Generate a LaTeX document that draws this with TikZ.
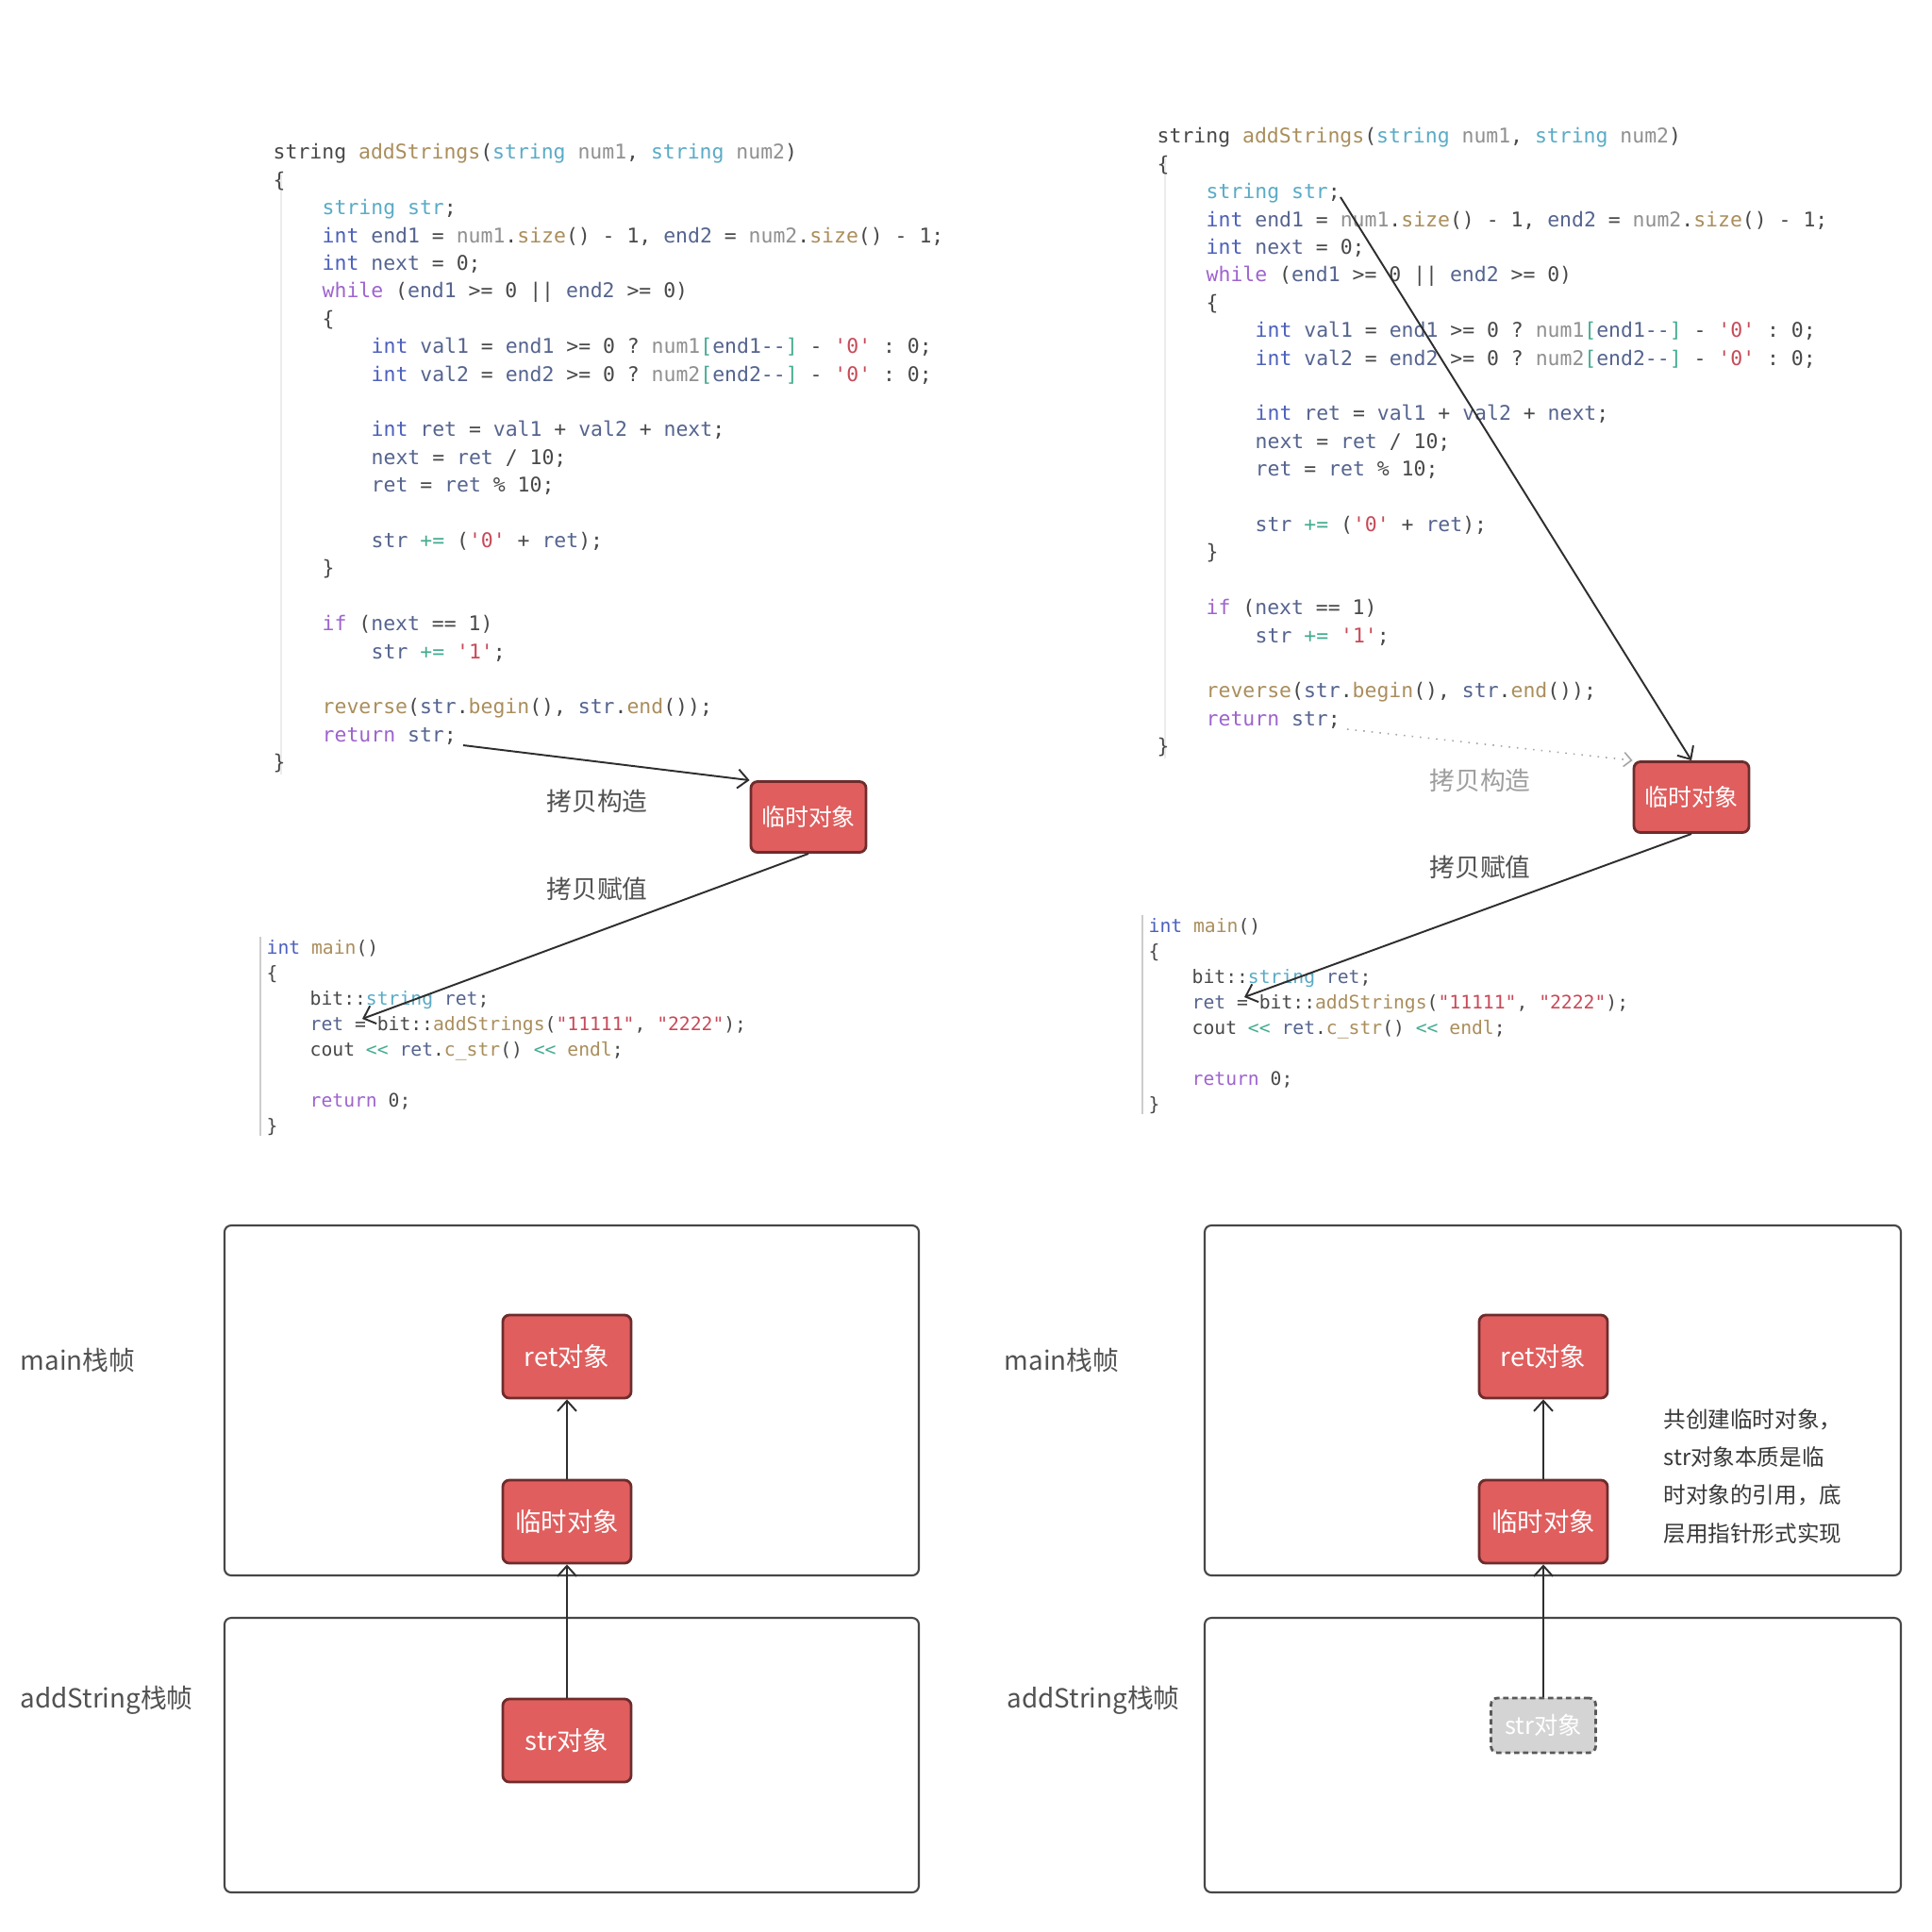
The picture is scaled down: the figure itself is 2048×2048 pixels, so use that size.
\documentclass[tikz,border=0pt]{standalone}
\usepackage{fontspec}
\setmainfont{Noto Sans CJK SC}
\setmonofont{DejaVu Sans Mono}
\usetikzlibrary{arrows.meta}

\definecolor{boxred}{HTML}{E05E5E}
\definecolor{boxline}{HTML}{6E2C2C}
\definecolor{cTx}{HTML}{484848}
\definecolor{cTy}{HTML}{4C60BC}
\definecolor{cKw}{HTML}{5AABC6}
\definecolor{cFn}{HTML}{AA8E5C}
\definecolor{cVa}{HTML}{55648F}
\definecolor{cNm}{HTML}{909090}
\definecolor{cCt}{HTML}{9E64CE}
\definecolor{cCh}{HTML}{C84A58}
\definecolor{cOp}{HTML}{45AC92}

% token colours
\newcommand{\cty}[1]{\textcolor{cTy}{#1}}
\newcommand{\ckw}[1]{\textcolor{cKw}{#1}}
\newcommand{\cfn}[1]{\textcolor{cFn}{#1}}
\newcommand{\cva}[1]{\textcolor{cVa}{#1}}
\newcommand{\cnm}[1]{\textcolor{cNm}{#1}}
\newcommand{\cct}[1]{\textcolor{cCt}{#1}}
\newcommand{\cch}[1]{\textcolor{cCh}{#1}}
\newcommand{\cop}[1]{\textcolor{cOp}{#1}}

\tikzset{
  code/.style={anchor=west, inner sep=0pt, text=cTx, text height=4.6pt, text depth=1.3pt,
    font=\ttfamily\fontsize{6.1}{7}\selectfont},
  mcode/.style={code, font=\ttfamily\fontsize{5.6}{6.5}\selectfont},
  guide/.style={draw=gray!15, line width=0.4pt},
  obj/.style={draw=boxline, fill=boxred, line width=0.8pt, rounded corners=2pt, text=white,
    minimum width=1.22cm, minimum height=0.75cm, inner sep=1pt, font=\fontsize{7.1}{8}\selectfont},
  big/.style={minimum width=1.36cm, minimum height=0.88cm, font=\fontsize{7.8}{9}\selectfont},
  ghost/.style={draw=black!65, fill=black!17, line width=0.8pt, dash pattern=on 1.6pt off 1.1pt,
    rounded corners=2pt, text=white, minimum width=1.11cm, minimum height=0.58cm, inner sep=1pt,
    font=\fontsize{7.2}{8}\selectfont},
  lbl/.style={inner sep=0pt, text=black!68, font=\fontsize{7.6}{9}\selectfont},
  frm/.style={anchor=west, inner sep=0pt, text=black!68, font=\fontsize{7.9}{9}\selectfont},
  note/.style={anchor=west, inner sep=0pt, align=left, text=black!78, font=\fontsize{6.7}{11.4}\selectfont},
  frame/.style={draw=black!72, line width=0.6pt, rounded corners=2pt},
  link/.style={draw=black!82, line width=0.55pt, -{Straight Barb[length=1.1mm,width=2mm]}},
  faint/.style={draw=black!35, line width=0.45pt, dotted, -{Straight Barb[length=0.8mm,width=1.5mm]}}
}

% addStrings body, #1 #2 = top left, #3 = name prefix
\newcommand{\codeblock}[3]{%
  \begin{scope}[shift={(#1,#2)}]
    \draw[guide] (9,22) -- (9,658);
    \node[code] (#3l0) at (0,0) {string \cfn{addStrings}(\ckw{string} \cnm{num1}, \ckw{string} \cnm{num2})};
    \node[code] (#3l1) at (0,29.4) {\{};
    \node[code] (#3str) at (52,58.8) {\ckw{string str};};
    \node[code] (#3l3) at (52,88.2) {\cty{int} \cva{end1} = \cnm{num1}.\cfn{size}() - 1, \cva{end2} = \cnm{num2}.\cfn{size}() - 1;};
    \node[code] (#3l4) at (52,117.6) {\cty{int} \cva{next} = 0;};
    \node[code] (#3l5) at (52,147) {\cct{while} (\cva{end1} >= 0 || \cva{end2} >= 0)};
    \node[code] (#3l6) at (52,176.4) {\{};
    \node[code] (#3l7) at (104,205.8) {\cty{int} \cva{val1} = \cva{end1} >= 0 ? \cnm{num1}\cop{[}\cva{end1--}\cop{]} - \cch{'0'} : 0;};
    \node[code] (#3l8) at (104,235.2) {\cty{int} \cva{val2} = \cva{end2} >= 0 ? \cnm{num2}\cop{[}\cva{end2--}\cop{]} - \cch{'0'} : 0;};
    \node[code] (#3l10) at (104,294) {\cty{int} \cva{ret} = \cva{val1} + \cva{val2} + \cva{next};};
    \node[code] (#3l11) at (104,323.4) {\cva{next} = \cva{ret} / 10;};
    \node[code] (#3l12) at (104,352.8) {\cva{ret} = \cva{ret} \% 10;};
    \node[code] (#3l14) at (104,411.6) {\cva{str} \cop{+=} (\cch{'0'} + \cva{ret});};
    \node[code] (#3l15) at (52,441) {\}};
    \node[code] (#3l17) at (52,499.8) {\cct{if} (\cva{next} == 1)};
    \node[code] (#3l18) at (104,529.2) {\cva{str} \cop{+=} \cch{'1'};};
    \node[code] (#3l20) at (52,588) {\cfn{reverse}(\cva{str}.\cfn{begin}(), \cva{str}.\cfn{end}());};
    \node[code] (#3ret) at (52,617.4) {\cct{return} \cva{str};};
    \node[code] (#3l22) at (0,646.8) {\}};
    \coordinate (#3src) at (195,63);% after "string str;"
    \coordinate (#3out) at (202,627);% after "return str;"
  \end{scope}}

% main(), same arguments
\newcommand{\mainblock}[3]{%
  \begin{scope}[shift={(#1,#2)}]
    \draw[guide, draw=gray!40] (-6,-13) -- (-6,198);
    \node[mcode] (#3m0) at (0,0) {\cty{int} \cfn{main}()};
    \node[mcode] (#3m1) at (0,27) {\{};
    \node[mcode] (#3m2) at (46,54) {bit::\ckw{string} \cva{ret};};
    \node[mcode] (#3asg) at (46,81) {\cva{ret} = bit::\cfn{addStrings}(\cch{"11111"}, \cch{"2222"});};
    \node[mcode] (#3m4) at (46,108) {cout \cop{<<} \cva{ret}.\cfn{c\_str}() \cop{<<} \cfn{endl};};
    \node[mcode] (#3m6) at (46,162) {\cct{return} 0;};
    \node[mcode] (#3m7) at (0,189) {\}};
    \coordinate (#3tip) at (102,74);% at "ret ="
  \end{scope}}

\begin{document}
\begin{tikzpicture}[x=0.01cm, y=-0.01cm]
  \useasboundingbox (0,0) rectangle (2048,2048);
  \fill[white] (0,0) rectangle (2048,2048);

  % code listings
  \codeblock{289}{163}{a}
  \codeblock{1226}{146}{b}
  \mainblock{282}{1006}{a}
  \mainblock{1217}{983}{b}

  % left: copy construct, then copy assign
  \node[obj] (tmpA) at (857,866) {临时对象};
  \node[lbl] (cpyA) at (633,849) {拷贝构造};
  \node[lbl] (asnA) at (633,942) {拷贝赋值};
  \draw[link] (aout) -- (tmpA.north west);
  \draw[link] (tmpA.south) -- (atip);

  % right: str built straight into the temporary
  \node[obj] (tmpB) at (1793,845) {临时对象};
  \node[lbl, text=black!38] (cpyB) at (1569,827) {拷贝构造};
  \node[lbl] (asnB) at (1569,919) {拷贝赋值};
  \draw[link] (bsrc) -- (tmpB.north);
  \draw[faint] (bout) -- (tmpB.north west);
  \draw[link] (tmpB.south) -- (btip);

  % stack frames
  \draw[frame] (238,1299) rectangle (974,1670);
  \draw[frame] (238,1715) rectangle (974,2006);
  \draw[frame] (1277,1299) rectangle (2015,1670);
  \draw[frame] (1277,1715) rectangle (2015,2006);
  \node[frm] (mainA) at (21,1442) {main栈帧};
  \node[frm] (addA) at (21,1802) {addString栈帧};
  \node[frm] (mainB) at (1064,1442) {main栈帧};
  \node[frm] (addB) at (1067,1802) {addString栈帧};

  \node[obj, big] (retA) at (601,1438) {ret对象};
  \node[obj, big] (midA) at (601,1613) {临时对象};
  \node[obj, big] (strA) at (601,1845) {str对象};
  \draw[link] (strA) -- (midA);
  \draw[link] (midA) -- (retA);

  \node[obj, big] (retB) at (1636,1438) {ret对象};
  \node[obj, big] (midB) at (1636,1613) {临时对象};
  \node[ghost] (strB) at (1636,1829) {str对象};
  \draw[link] (strB) -- (midB);
  \draw[link] (midB) -- (retB);
  \node[note] (noteB) at (1763,1565) {共创建临时对象，\\str对象本质是临\\时对象的引用，底\\层用指针形式实现};
\end{tikzpicture}
\end{document}
